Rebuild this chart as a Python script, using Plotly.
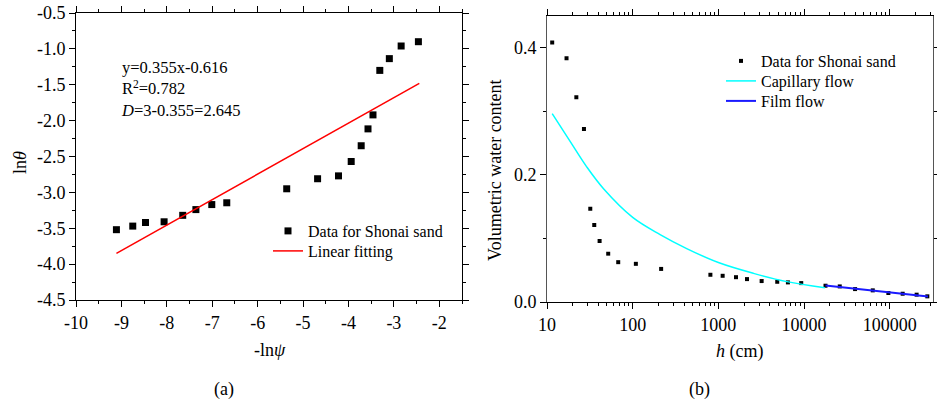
import plotly.graph_objects as go

# panel (a): ln(theta) vs -ln(psi)
neg_ln_psi = [-9.11, -8.75, -8.47, -8.06, -7.65, -7.36, -7.01, -6.68, -5.36, -4.68,
              -4.22, -3.94, -3.72, -3.57, -3.46, -3.31, -3.10, -2.84, -2.46]
ln_theta = [-3.52, -3.47, -3.42, -3.41, -3.32, -3.24, -3.17, -3.145, -2.95, -2.81,
            -2.77, -2.57, -2.35, -2.115, -1.92, -1.30, -1.136, -0.96, -0.90]
fit_slope = 0.355
fit_intercept = -0.616
fit_x = [-9.11, -2.44]

# panel (b): water content vs suction head
h_data = [11.5, 16.9, 22.0, 27.0, 32.0, 35.6, 41.1, 51.8, 67.8, 108.9, 214.8, 807,
          1122, 1606, 2158, 3199, 4866, 6481, 9270, 17800, 26100, 39400, 63400,
          96400, 141600, 206000, 274700]
wc_data = [0.408, 0.383, 0.322, 0.272, 0.1465, 0.121, 0.096, 0.076, 0.0626, 0.060,
           0.052, 0.0428, 0.0412, 0.039, 0.036, 0.0329, 0.0318, 0.0308, 0.0297,
           0.0256, 0.0245, 0.0203, 0.0183, 0.0141, 0.013, 0.0115, 0.0089]
h_cap = [11.5, 18.7, 29.2, 45.7, 100, 209, 427, 1000, 2570, 6300, 17500]
wc_cap = [0.296, 0.252, 0.212, 0.178, 0.133, 0.106, 0.084, 0.062, 0.045, 0.032, 0.0224]
h_film = [17800, 280000]
wc_film = [0.0258, 0.0088]

# tick labels
xa_vals = [-10, -9, -8, -7, -6, -5, -4, -3, -2]
xa_text = ["-10", "-9", "-8", "-7", "-6", "-5", "-4", "-3", "-2"]
ya_vals = [-4.5, -4.0, -3.5, -3.0, -2.5, -2.0, -1.5, -1.0, -0.5]
ya_text = ["-4.5", "-4.0", "-3.5", "-3.0", "-2.5", "-2.0", "-1.5", "-1.0", "-0.5"]
xb_vals = [10, 100, 1000, 10000, 100000]
xb_text = ["10", "100", "1000", "10000", "100000"]
yb_vals = [0.0, 0.2, 0.4]
yb_text = ["0.0", "0.2", "0.4"]

FONT = "Liberation Serif"
W, H = 937, 402


def px(x):
    return x / W


def py(y):
    return 1 - y / H


fig = go.Figure()

fig.add_trace(go.Scatter(
    x=neg_ln_psi, y=ln_theta, mode="markers", name="Data for Shonai sand",
    marker=dict(symbol="square", size=7, color="black"),
    xaxis="x", yaxis="y", legend="legend"
))
fig.add_trace(go.Scatter(
    x=fit_x, y=[fit_slope * v + fit_intercept for v in fit_x], mode="lines",
    name="Linear fitting", line=dict(color="#ff0000", width=1.5),
    xaxis="x", yaxis="y", legend="legend3"
))

fig.add_trace(go.Scatter(
    x=h_data, y=wc_data, mode="markers", name="Data for Shonai sand",
    marker=dict(symbol="square", size=4, color="black"),
    xaxis="x2", yaxis="y2", legend="legend2"
))
fig.add_trace(go.Scatter(
    x=h_cap, y=wc_cap, mode="lines", name="Capillary flow",
    line=dict(color="#00ffff", width=1.5, shape="spline"),
    xaxis="x2", yaxis="y2", legend="legend4"
))
fig.add_trace(go.Scatter(
    x=h_film, y=wc_film, mode="lines", name="Film flow",
    line=dict(color="#1a1aff", width=2),
    xaxis="x2", yaxis="y2", legend="legend5"
))

dom_xa = [px(76), px(462)]
dom_ya = [py(300), py(13)]
dom_xb = [px(547), px(933)]
dom_yb = [py(302), py(15.7)]

log_minor = [m * 10 ** k for k in range(1, 6) for m in range(2, 10)]

tickfont = dict(family=FONT, size=18, color="black")
common = dict(showgrid=False, zeroline=False, showline=True, linewidth=1,
              linecolor="black", tickcolor="black", tickfont=tickfont,
              mirror="ticks", ticks="outside", ticklen=6,
              ticklabeloverflow="allow")

minor_xa = dict(tickmode="linear", tick0=-10, dtick=0.5, ticklen=3, ticks="outside")
minor_ya = dict(tickmode="linear", tick0=-4.5, dtick=0.25, ticklen=3, ticks="outside")
minor_xb = dict(tickmode="array", tickvals=log_minor, ticklen=3, ticks="outside")
minor_yb = dict(tickmode="linear", tick0=0, dtick=0.1, ticklen=3, ticks="outside")


def legend_at(x, y):
    # one legend per entry so every row sits where the reference has it
    return dict(x=px(x), y=py(y), xanchor="left", yanchor="middle",
                bgcolor="rgba(0,0,0,0)", font=dict(family=FONT, size=16),
                itemwidth=30)


fig.update_layout(
    width=W, height=H,
    margin=dict(l=0, r=0, t=0, b=0, autoexpand=False),
    paper_bgcolor="white", plot_bgcolor="white",
    font=dict(family=FONT, size=16, color="black"),
    xaxis=dict(domain=dom_xa, anchor="y", range=[-10, -1.5], tickmode="array",
               tickvals=xa_vals, ticktext=xa_text, minor=minor_xa, **common),
    yaxis=dict(domain=dom_ya, anchor="x", range=[-4.5, -0.5], tickmode="array",
               tickvals=ya_vals, ticktext=ya_text, minor=minor_ya, **common),
    xaxis2=dict(domain=dom_xb, anchor="y2", type="log", range=[1, 5.505],
                tickmode="array", tickvals=xb_vals, ticktext=xb_text,
                minor=minor_xb, **common),
    yaxis2=dict(domain=dom_yb, anchor="x2", range=[0, 0.45], tickmode="array",
                tickvals=yb_vals, ticktext=yb_text, minor=minor_yb,
                **{**common, "linecolor": "#555555"}),
    legend=legend_at(268, 231),
    legend3=legend_at(268, 251),
    legend2=legend_at(721, 61),
    legend4=legend_at(721, 81),
    legend5=legend_at(721, 101),
    showlegend=True,
)

ann = [
    dict(x=px(119), y=py(56), xanchor="left", yanchor="top", align="left",
         text="y=0.355x-0.616<br>R<sup>2</sup>=0.782<br><i>D</i>=3-0.355=2.645",
         font=dict(size=16.5)),
    dict(x=px(270), y=py(350), text="-ln<i>ψ</i>", font=dict(size=18)),
    dict(x=px(20), y=py(163), text="ln<i>θ</i>", textangle=-90,
         font=dict(size=18)),
    dict(x=px(495), y=py(170), text="Volumetric water content", textangle=-90,
         font=dict(size=18)),
    dict(x=px(739), y=py(351), text="<i>h</i> (cm)", font=dict(size=18)),
    dict(x=px(224), y=py(389), text="(a)", font=dict(size=18)),
    dict(x=px(699), y=py(389), text="(b)", font=dict(size=18)),
]
for a in ann:
    a.update(xref="paper", yref="paper", showarrow=False)
    a.setdefault("xanchor", "center")
    a.setdefault("yanchor", "middle")
fig.update_layout(annotations=ann)

# drop the default 8px page margin so the figure fills the window exactly
fig.write_html("out.html", config={"displayModeBar": False},
               post_script="document.body.style.margin = '0';")
